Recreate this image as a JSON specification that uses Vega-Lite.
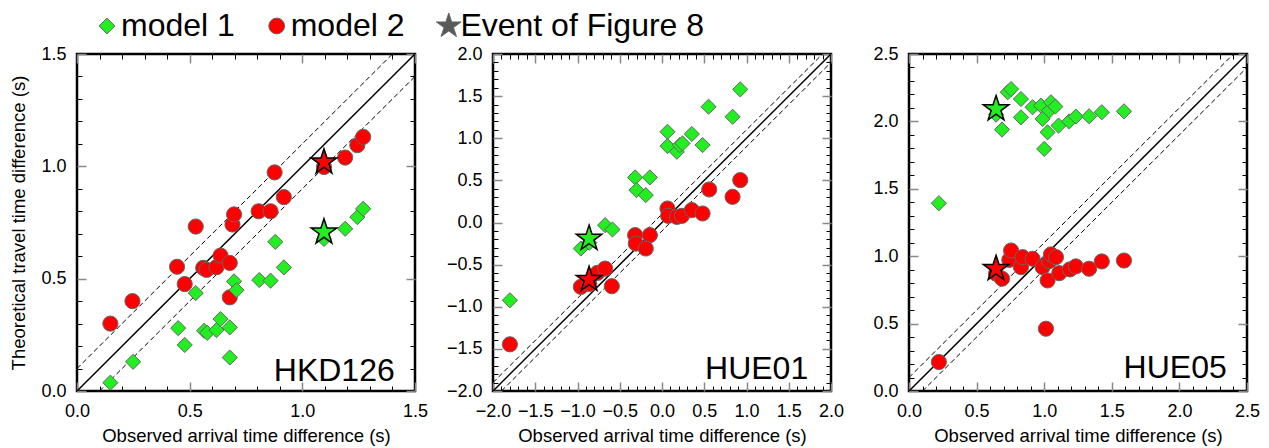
{
"$schema": "https://vega.github.io/schema/vega-lite/v6.json",
"background": "white",
"padding": {"left": 8, "top": 10, "right": 5, "bottom": 0},
"spacing": 78,
"bounds": "flush",
"datasets": {
"pts": [
{"panel":"HKD126","series":"model 2","kind":"station","obs":0.148,"theo":0.30},
{"panel":"HKD126","series":"model 2","kind":"station","obs":0.246,"theo":0.40},
{"panel":"HKD126","series":"model 2","kind":"station","obs":0.444,"theo":0.553},
{"panel":"HKD126","series":"model 2","kind":"station","obs":0.478,"theo":0.476},
{"panel":"HKD126","series":"model 2","kind":"station","obs":0.527,"theo":0.732},
{"panel":"HKD126","series":"model 2","kind":"station","obs":0.56,"theo":0.548},
{"panel":"HKD126","series":"model 2","kind":"station","obs":0.575,"theo":0.539},
{"panel":"HKD126","series":"model 2","kind":"station","obs":0.619,"theo":0.551},
{"panel":"HKD126","series":"model 2","kind":"station","obs":0.637,"theo":0.603},
{"panel":"HKD126","series":"model 2","kind":"station","obs":0.678,"theo":0.57},
{"panel":"HKD126","series":"model 2","kind":"station","obs":0.678,"theo":0.417},
{"panel":"HKD126","series":"model 2","kind":"station","obs":0.69,"theo":0.741},
{"panel":"HKD126","series":"model 2","kind":"station","obs":0.697,"theo":0.786},
{"panel":"HKD126","series":"model 2","kind":"station","obs":0.806,"theo":0.80},
{"panel":"HKD126","series":"model 2","kind":"station","obs":0.859,"theo":0.80},
{"panel":"HKD126","series":"model 2","kind":"station","obs":0.877,"theo":0.973},
{"panel":"HKD126","series":"model 2","kind":"station","obs":0.918,"theo":0.863},
{"panel":"HKD126","series":"model 2","kind":"station","obs":1.096,"theo":0.997},
{"panel":"HKD126","series":"model 2","kind":"station","obs":1.19,"theo":1.039},
{"panel":"HKD126","series":"model 2","kind":"station","obs":1.244,"theo":1.094},
{"panel":"HKD126","series":"model 2","kind":"station","obs":1.27,"theo":1.131},
{"panel":"HKD126","series":"model 2","kind":"event","obs":1.096,"theo":1.019},
{"panel":"HKD126","series":"model 1","kind":"station","obs":0.148,"theo":0.037},
{"panel":"HKD126","series":"model 1","kind":"station","obs":0.249,"theo":0.13},
{"panel":"HKD126","series":"model 1","kind":"station","obs":0.449,"theo":0.28},
{"panel":"HKD126","series":"model 1","kind":"station","obs":0.478,"theo":0.205},
{"panel":"HKD126","series":"model 1","kind":"station","obs":0.527,"theo":0.436},
{"panel":"HKD126","series":"model 1","kind":"station","obs":0.564,"theo":0.268},
{"panel":"HKD126","series":"model 1","kind":"station","obs":0.578,"theo":0.259},
{"panel":"HKD126","series":"model 1","kind":"station","obs":0.619,"theo":0.271},
{"panel":"HKD126","series":"model 1","kind":"station","obs":0.637,"theo":0.32},
{"panel":"HKD126","series":"model 1","kind":"station","obs":0.678,"theo":0.283},
{"panel":"HKD126","series":"model 1","kind":"station","obs":0.678,"theo":0.149},
{"panel":"HKD126","series":"model 1","kind":"station","obs":0.697,"theo":0.488},
{"panel":"HKD126","series":"model 1","kind":"station","obs":0.708,"theo":0.449},
{"panel":"HKD126","series":"model 1","kind":"station","obs":0.809,"theo":0.494},
{"panel":"HKD126","series":"model 1","kind":"station","obs":0.859,"theo":0.491},
{"panel":"HKD126","series":"model 1","kind":"station","obs":0.88,"theo":0.664},
{"panel":"HKD126","series":"model 1","kind":"station","obs":0.918,"theo":0.55},
{"panel":"HKD126","series":"model 1","kind":"station","obs":1.096,"theo":0.677},
{"panel":"HKD126","series":"model 1","kind":"station","obs":1.19,"theo":0.722},
{"panel":"HKD126","series":"model 1","kind":"station","obs":1.244,"theo":0.774},
{"panel":"HKD126","series":"model 1","kind":"station","obs":1.27,"theo":0.811},
{"panel":"HKD126","series":"model 1","kind":"event","obs":1.096,"theo":0.707},
{"panel":"HUE01","series":"model 1","kind":"station","obs":-1.80,"theo":-0.923},
{"panel":"HUE01","series":"model 1","kind":"station","obs":-0.96,"theo":-0.309},
{"panel":"HUE01","series":"model 1","kind":"station","obs":-0.86,"theo":-0.24},
{"panel":"HUE01","series":"model 1","kind":"station","obs":-0.673,"theo":-0.032},
{"panel":"HUE01","series":"model 1","kind":"station","obs":-0.586,"theo":-0.083},
{"panel":"HUE01","series":"model 1","kind":"station","obs":-0.318,"theo":0.535},
{"panel":"HUE01","series":"model 1","kind":"station","obs":-0.144,"theo":0.535},
{"panel":"HUE01","series":"model 1","kind":"station","obs":-0.302,"theo":0.384},
{"panel":"HUE01","series":"model 1","kind":"station","obs":-0.192,"theo":0.325},
{"panel":"HUE01","series":"model 1","kind":"station","obs":0.065,"theo":1.077},
{"panel":"HUE01","series":"model 1","kind":"station","obs":0.065,"theo":0.907},
{"panel":"HUE01","series":"model 1","kind":"station","obs":0.176,"theo":0.84},
{"panel":"HUE01","series":"model 1","kind":"station","obs":0.211,"theo":0.919},
{"panel":"HUE01","series":"model 1","kind":"station","obs":0.243,"theo":0.939},
{"panel":"HUE01","series":"model 1","kind":"station","obs":0.353,"theo":1.05},
{"panel":"HUE01","series":"model 1","kind":"station","obs":0.48,"theo":0.919},
{"panel":"HUE01","series":"model 1","kind":"station","obs":0.551,"theo":1.374},
{"panel":"HUE01","series":"model 1","kind":"station","obs":0.835,"theo":1.255},
{"panel":"HUE01","series":"model 1","kind":"station","obs":0.926,"theo":1.58},
{"panel":"HUE01","series":"model 1","kind":"event","obs":-0.863,"theo":-0.19},
{"panel":"HUE01","series":"model 2","kind":"station","obs":-1.80,"theo":-1.446},
{"panel":"HUE01","series":"model 2","kind":"station","obs":-0.96,"theo":-0.764},
{"panel":"HUE01","series":"model 2","kind":"station","obs":-0.86,"theo":-0.73},
{"panel":"HUE01","series":"model 2","kind":"station","obs":-0.764,"theo":-0.598},
{"panel":"HUE01","series":"model 2","kind":"station","obs":-0.673,"theo":-0.547},
{"panel":"HUE01","series":"model 2","kind":"station","obs":-0.594,"theo":-0.756},
{"panel":"HUE01","series":"model 2","kind":"station","obs":-0.318,"theo":-0.15},
{"panel":"HUE01","series":"model 2","kind":"station","obs":-0.31,"theo":-0.25},
{"panel":"HUE01","series":"model 2","kind":"station","obs":-0.144,"theo":-0.15},
{"panel":"HUE01","series":"model 2","kind":"station","obs":-0.192,"theo":-0.309},
{"panel":"HUE01","series":"model 2","kind":"station","obs":0.065,"theo":0.166},
{"panel":"HUE01","series":"model 2","kind":"station","obs":0.073,"theo":0.079},
{"panel":"HUE01","series":"model 2","kind":"station","obs":0.176,"theo":0.067},
{"panel":"HUE01","series":"model 2","kind":"station","obs":0.235,"theo":0.079},
{"panel":"HUE01","series":"model 2","kind":"station","obs":0.353,"theo":0.147},
{"panel":"HUE01","series":"model 2","kind":"station","obs":0.48,"theo":0.107},
{"panel":"HUE01","series":"model 2","kind":"station","obs":0.559,"theo":0.392},
{"panel":"HUE01","series":"model 2","kind":"station","obs":0.835,"theo":0.305},
{"panel":"HUE01","series":"model 2","kind":"station","obs":0.926,"theo":0.503},
{"panel":"HUE01","series":"model 2","kind":"event","obs":-0.863,"theo":-0.677},
{"panel":"HUE05","series":"model 1","kind":"station","obs":0.221,"theo":1.393},
{"panel":"HUE05","series":"model 1","kind":"station","obs":0.644,"theo":2.05},
{"panel":"HUE05","series":"model 1","kind":"station","obs":0.688,"theo":1.939},
{"panel":"HUE05","series":"model 1","kind":"station","obs":0.73,"theo":2.216},
{"panel":"HUE05","series":"model 1","kind":"station","obs":0.755,"theo":2.24},
{"panel":"HUE05","series":"model 1","kind":"station","obs":0.828,"theo":2.166},
{"panel":"HUE05","series":"model 1","kind":"station","obs":0.828,"theo":2.03},
{"panel":"HUE05","series":"model 1","kind":"station","obs":0.914,"theo":2.105},
{"panel":"HUE05","series":"model 1","kind":"station","obs":0.976,"theo":2.117},
{"panel":"HUE05","series":"model 1","kind":"station","obs":0.988,"theo":2.018},
{"panel":"HUE05","series":"model 1","kind":"station","obs":1.0,"theo":1.796},
{"panel":"HUE05","series":"model 1","kind":"station","obs":1.025,"theo":1.919},
{"panel":"HUE05","series":"model 1","kind":"station","obs":1.037,"theo":2.08},
{"panel":"HUE05","series":"model 1","kind":"station","obs":1.05,"theo":2.142},
{"panel":"HUE05","series":"model 1","kind":"station","obs":1.082,"theo":2.11},
{"panel":"HUE05","series":"model 1","kind":"station","obs":1.106,"theo":1.969},
{"panel":"HUE05","series":"model 1","kind":"station","obs":1.185,"theo":2.0},
{"panel":"HUE05","series":"model 1","kind":"station","obs":1.234,"theo":2.036},
{"panel":"HUE05","series":"model 1","kind":"station","obs":1.332,"theo":2.038},
{"panel":"HUE05","series":"model 1","kind":"station","obs":1.426,"theo":2.068},
{"panel":"HUE05","series":"model 1","kind":"station","obs":1.59,"theo":2.075},
{"panel":"HUE05","series":"model 1","kind":"event","obs":0.644,"theo":2.092},
{"panel":"HUE05","series":"model 2","kind":"station","obs":0.221,"theo":0.215},
{"panel":"HUE05","series":"model 2","kind":"station","obs":0.644,"theo":0.87},
{"panel":"HUE05","series":"model 2","kind":"station","obs":0.688,"theo":0.833},
{"panel":"HUE05","series":"model 2","kind":"station","obs":0.742,"theo":0.973},
{"panel":"HUE05","series":"model 2","kind":"station","obs":0.755,"theo":1.042},
{"panel":"HUE05","series":"model 2","kind":"station","obs":0.828,"theo":0.919},
{"panel":"HUE05","series":"model 2","kind":"station","obs":0.84,"theo":0.993},
{"panel":"HUE05","series":"model 2","kind":"station","obs":0.914,"theo":0.981},
{"panel":"HUE05","series":"model 2","kind":"station","obs":0.988,"theo":0.919},
{"panel":"HUE05","series":"model 2","kind":"station","obs":1.013,"theo":0.462},
{"panel":"HUE05","series":"model 2","kind":"station","obs":1.025,"theo":0.82},
{"panel":"HUE05","series":"model 2","kind":"station","obs":1.037,"theo":0.963},
{"panel":"HUE05","series":"model 2","kind":"station","obs":1.05,"theo":1.013},
{"panel":"HUE05","series":"model 2","kind":"station","obs":1.087,"theo":0.993},
{"panel":"HUE05","series":"model 2","kind":"station","obs":1.111,"theo":0.874},
{"panel":"HUE05","series":"model 2","kind":"station","obs":1.19,"theo":0.902},
{"panel":"HUE05","series":"model 2","kind":"station","obs":1.234,"theo":0.924},
{"panel":"HUE05","series":"model 2","kind":"station","obs":1.332,"theo":0.907},
{"panel":"HUE05","series":"model 2","kind":"station","obs":1.426,"theo":0.961},
{"panel":"HUE05","series":"model 2","kind":"station","obs":1.59,"theo":0.968},
{"panel":"HUE05","series":"model 2","kind":"event","obs":0.644,"theo":0.907}
],
"lines": [
{"panel":"HKD126","line":"solid","obs":0,"theo":0},
{"panel":"HKD126","line":"solid","obs":1.5,"theo":1.5},
{"panel":"HKD126","line":"upper","obs":0,"theo":0.1},
{"panel":"HKD126","line":"upper","obs":1.4,"theo":1.5},
{"panel":"HKD126","line":"lower","obs":0.1,"theo":0},
{"panel":"HKD126","line":"lower","obs":1.5,"theo":1.4},
{"panel":"HUE01","line":"solid","obs":-2,"theo":-2},
{"panel":"HUE01","line":"solid","obs":2,"theo":2},
{"panel":"HUE01","line":"upper","obs":-2,"theo":-1.9},
{"panel":"HUE01","line":"upper","obs":1.9,"theo":2},
{"panel":"HUE01","line":"lower","obs":-1.9,"theo":-2},
{"panel":"HUE01","line":"lower","obs":2,"theo":1.9},
{"panel":"HUE05","line":"solid","obs":0,"theo":0},
{"panel":"HUE05","line":"solid","obs":2.5,"theo":2.5},
{"panel":"HUE05","line":"upper","obs":0,"theo":0.1},
{"panel":"HUE05","line":"upper","obs":2.4,"theo":2.5},
{"panel":"HUE05","line":"lower","obs":0.1,"theo":0},
{"panel":"HUE05","line":"lower","obs":2.5,"theo":2.4}
],
"tags": [
{"panel":"HKD126","obs":1.41,"theo":0.045},
{"panel":"HUE01","obs":1.73,"theo":-1.86},
{"panel":"HUE05","obs":2.35,"theo":0.096}
]
},
"hconcat": [
{
"width": 338, "height": 337,
"layer": [
{"data":{"name":"lines"},"transform":[{"filter":"datum.panel=='HKD126' && datum.line=='solid'"}],
 "mark":{"type":"line","color":"black","strokeWidth":1.5,"clip":true},
 "encoding":{
  "x":{"field":"obs","type":"quantitative","scale":{"domain":[0,1.5],"nice":false,"zero":false},
   "axis":{"orient":"bottom","values":[0,0.5,1,1.5],"format":".1f","tickSize":-9,"tickColor":"#888888","tickWidth":1.5,"labelPadding":20,"title":"Observed arrival time difference (s)","titlePadding":6}},
  "y":{"field":"theo","type":"quantitative","scale":{"domain":[0,1.5],"nice":false,"zero":false},
   "axis":{"orient":"left","values":[0,0.5,1,1.5],"format":".1f","tickSize":-9,"tickColor":"#888888","tickWidth":1.5,"labelPadding":20,"title":"Theoretical travel time difference (s)","titlePadding":12}}}},
{"data":{"name":"lines"},"transform":[{"filter":"datum.panel=='HKD126' && datum.line!='solid'"}],
 "mark":{"type":"line","color":"black","strokeWidth":1,"strokeDash":[5,3],"clip":true},
 "encoding":{
  "detail":{"field":"line"},
  "x":{"field":"obs","type":"quantitative","scale":{"domain":[0,1.5],"nice":false,"zero":false},
   "axis":{"orient":"bottom","values":[0.1,0.2,0.3,0.4,0.6,0.7,0.8,0.9,1.1,1.2,1.3,1.4],"tickSize":-5,"tickColor":"black","labels":false,"title":null}},
  "y":{"field":"theo","type":"quantitative","scale":{"domain":[0,1.5],"nice":false,"zero":false},
   "axis":{"orient":"left","values":[0.1,0.2,0.3,0.4,0.6,0.7,0.8,0.9,1.1,1.2,1.3,1.4],"tickSize":-5,"tickColor":"black","labels":false,"title":null}}}},
{"data":{"name":"pts"},"transform":[{"filter":"datum.panel=='HKD126' && datum.kind=='station'"}],
 "mark":{"type":"point","filled":true,"stroke":"#666666","strokeWidth":1,"opacity":1,"size":230},
 "encoding":{
  "x":{"field":"obs","type":"quantitative","scale":{"domain":[0,1.5],"nice":false,"zero":false},
   "axis":{"orient":"top","values":[0,0.5,1,1.5],"tickSize":-9,"tickColor":"#888888","tickWidth":1.5,"labels":false,"title":null}},
  "y":{"field":"theo","type":"quantitative","scale":{"domain":[0,1.5],"nice":false,"zero":false},
   "axis":{"orient":"right","values":[0,0.5,1,1.5],"tickSize":-9,"tickColor":"#888888","tickWidth":1.5,"labels":false,"title":null}},
  "fill":{"field":"series","type":"nominal","scale":{"domain":["model 1","model 2","Event of Figure 8"],"range":["#22ee22","#ff0000","#595959"]},
   "legend":{"title":null,"orient":"none","legendX":14,"legendY":-44,"direction":"horizontal","columns":3,"labelFontSize":32,"labelLimit":600,"labelColor":"black","labelOffset":-2,"columnPadding":25.7,"symbolSize":250,"symbolStrokeColor":"#444444","symbolStrokeWidth":1}},
  "shape":{"field":"series","type":"nominal","scale":{"domain":["model 1","model 2","Event of Figure 8"],"range":["diamond","circle","M0.3,-1.65L0.67,-0.51L1.87,-0.51L0.9,0.195L1.27,1.335L0.3,0.63L-0.67,1.335L-0.3,0.195L-1.27,-0.51L-0.07,-0.51Z"]}}}},
{"data":{"name":"pts"},"transform":[{"filter":"datum.panel=='HKD126' && datum.kind=='event' && datum.series=='model 1'"}],
 "mark":{"type":"point","filled":true,"fill":"#22ee22","stroke":"black","strokeWidth":1.5,"size":720,"opacity":1,"shape":"M0,-1L0.2245,-0.309L0.9511,-0.309L0.3633,0.118L0.5878,0.809L0,0.382L-0.5878,0.809L-0.3633,0.118L-0.9511,-0.309L-0.2245,-0.309Z"},
 "encoding":{
  "x":{"field":"obs","type":"quantitative","scale":{"domain":[0,1.5],"nice":false,"zero":false},
   "axis":{"orient":"top","values":[0.1,0.2,0.3,0.4,0.6,0.7,0.8,0.9,1.1,1.2,1.3,1.4],"tickSize":-5,"tickColor":"black","labels":false,"title":null}},
  "y":{"field":"theo","type":"quantitative","scale":{"domain":[0,1.5],"nice":false,"zero":false},
   "axis":{"orient":"right","values":[0.1,0.2,0.3,0.4,0.6,0.7,0.8,0.9,1.1,1.2,1.3,1.4],"tickSize":-5,"tickColor":"black","labels":false,"title":null}}}},
{"data":{"name":"pts"},"transform":[{"filter":"datum.panel=='HKD126' && datum.kind=='event' && datum.series=='model 2'"}],
 "mark":{"type":"point","filled":true,"fill":"#ff0000","stroke":"black","strokeWidth":1.5,"size":720,"opacity":1,"shape":"M0,-1L0.2245,-0.309L0.9511,-0.309L0.3633,0.118L0.5878,0.809L0,0.382L-0.5878,0.809L-0.3633,0.118L-0.9511,-0.309L-0.2245,-0.309Z"},
 "encoding":{
  "x":{"field":"obs","type":"quantitative","scale":{"domain":[0,1.5],"nice":false,"zero":false},"axis":null},
  "y":{"field":"theo","type":"quantitative","scale":{"domain":[0,1.5],"nice":false,"zero":false},"axis":null}}},
{"data":{"name":"tags"},"transform":[{"filter":"datum.panel=='HKD126'"}],
 "mark":{"type":"text","align":"right","baseline":"alphabetic","fontSize":32,"font":"Liberation Sans","color":"black"},
 "encoding":{
  "text":{"field":"panel"},
  "x":{"field":"obs","type":"quantitative","scale":{"domain":[0,1.5],"nice":false,"zero":false},"axis":null},
  "y":{"field":"theo","type":"quantitative","scale":{"domain":[0,1.5],"nice":false,"zero":false},"axis":null}}}
],
"resolve":{"axis":{"x":"independent","y":"independent"}}
},
{
"width": 338, "height": 337,
"layer": [
{"data":{"name":"lines"},"transform":[{"filter":"datum.panel=='HUE01' && datum.line=='solid'"}],
 "mark":{"type":"line","color":"black","strokeWidth":1.5,"clip":true},
 "encoding":{
  "x":{"field":"obs","type":"quantitative","scale":{"domain":[-2,2],"nice":false,"zero":false},
   "axis":{"orient":"bottom","values":[-2,-1.5,-1,-0.5,0,0.5,1,1.5,2],"format":".1f","tickSize":-9,"tickColor":"#888888","tickWidth":1.5,"labelPadding":20,"title":"Observed arrival time difference (s)","titlePadding":6}},
  "y":{"field":"theo","type":"quantitative","scale":{"domain":[-2,2],"nice":false,"zero":false},
   "axis":{"orient":"left","values":[-2,-1.5,-1,-0.5,0,0.5,1,1.5,2],"format":".1f","tickSize":-9,"tickColor":"#888888","tickWidth":1.5,"labelPadding":20,"title":null}}}},
{"data":{"name":"lines"},"transform":[{"filter":"datum.panel=='HUE01' && datum.line!='solid'"}],
 "mark":{"type":"line","color":"black","strokeWidth":1,"strokeDash":[5,3],"clip":true},
 "encoding":{
  "detail":{"field":"line"},
  "x":{"field":"obs","type":"quantitative","scale":{"domain":[-2,2],"nice":false,"zero":false},
   "axis":{"orient":"bottom","values":[-1.9,-1.8,-1.7,-1.6,-1.4,-1.3,-1.2,-1.1,-0.9,-0.8,-0.7,-0.6,-0.4,-0.3,-0.2,-0.1,0.1,0.2,0.3,0.4,0.6,0.7,0.8,0.9,1.1,1.2,1.3,1.4,1.6,1.7,1.8,1.9],"tickSize":-5,"tickColor":"black","labels":false,"title":null}},
  "y":{"field":"theo","type":"quantitative","scale":{"domain":[-2,2],"nice":false,"zero":false},
   "axis":{"orient":"left","values":[-1.9,-1.8,-1.7,-1.6,-1.4,-1.3,-1.2,-1.1,-0.9,-0.8,-0.7,-0.6,-0.4,-0.3,-0.2,-0.1,0.1,0.2,0.3,0.4,0.6,0.7,0.8,0.9,1.1,1.2,1.3,1.4,1.6,1.7,1.8,1.9],"tickSize":-5,"tickColor":"black","labels":false,"title":null}}}},
{"data":{"name":"pts"},"transform":[{"filter":"datum.panel=='HUE01' && datum.kind=='station'"}],
 "mark":{"type":"point","filled":true,"stroke":"#666666","strokeWidth":1,"opacity":1,"size":230},
 "encoding":{
  "x":{"field":"obs","type":"quantitative","scale":{"domain":[-2,2],"nice":false,"zero":false},
   "axis":{"orient":"top","values":[-2,-1.5,-1,-0.5,0,0.5,1,1.5,2],"tickSize":-9,"tickColor":"#888888","tickWidth":1.5,"labels":false,"title":null}},
  "y":{"field":"theo","type":"quantitative","scale":{"domain":[-2,2],"nice":false,"zero":false},
   "axis":{"orient":"right","values":[-2,-1.5,-1,-0.5,0,0.5,1,1.5,2],"tickSize":-9,"tickColor":"#888888","tickWidth":1.5,"labels":false,"title":null}},
  "fill":{"field":"series","type":"nominal","scale":{"domain":["model 1","model 2","Event of Figure 8"],"range":["#22ee22","#ff0000","#595959"]},
   "legend":{"title":null,"orient":"none","legendX":14,"legendY":-44,"direction":"horizontal","columns":3,"labelFontSize":32,"labelLimit":600,"labelColor":"black","labelOffset":-2,"columnPadding":25.7,"symbolSize":250,"symbolStrokeColor":"#444444","symbolStrokeWidth":1}},
  "shape":{"field":"series","type":"nominal","scale":{"domain":["model 1","model 2","Event of Figure 8"],"range":["diamond","circle","M0.3,-1.65L0.67,-0.51L1.87,-0.51L0.9,0.195L1.27,1.335L0.3,0.63L-0.67,1.335L-0.3,0.195L-1.27,-0.51L-0.07,-0.51Z"]}}}},
{"data":{"name":"pts"},"transform":[{"filter":"datum.panel=='HUE01' && datum.kind=='event' && datum.series=='model 1'"}],
 "mark":{"type":"point","filled":true,"fill":"#22ee22","stroke":"black","strokeWidth":1.5,"size":720,"opacity":1,"shape":"M0,-1L0.2245,-0.309L0.9511,-0.309L0.3633,0.118L0.5878,0.809L0,0.382L-0.5878,0.809L-0.3633,0.118L-0.9511,-0.309L-0.2245,-0.309Z"},
 "encoding":{
  "x":{"field":"obs","type":"quantitative","scale":{"domain":[-2,2],"nice":false,"zero":false},
   "axis":{"orient":"top","values":[-1.9,-1.8,-1.7,-1.6,-1.4,-1.3,-1.2,-1.1,-0.9,-0.8,-0.7,-0.6,-0.4,-0.3,-0.2,-0.1,0.1,0.2,0.3,0.4,0.6,0.7,0.8,0.9,1.1,1.2,1.3,1.4,1.6,1.7,1.8,1.9],"tickSize":-5,"tickColor":"black","labels":false,"title":null}},
  "y":{"field":"theo","type":"quantitative","scale":{"domain":[-2,2],"nice":false,"zero":false},
   "axis":{"orient":"right","values":[-1.9,-1.8,-1.7,-1.6,-1.4,-1.3,-1.2,-1.1,-0.9,-0.8,-0.7,-0.6,-0.4,-0.3,-0.2,-0.1,0.1,0.2,0.3,0.4,0.6,0.7,0.8,0.9,1.1,1.2,1.3,1.4,1.6,1.7,1.8,1.9],"tickSize":-5,"tickColor":"black","labels":false,"title":null}}}},
{"data":{"name":"pts"},"transform":[{"filter":"datum.panel=='HUE01' && datum.kind=='event' && datum.series=='model 2'"}],
 "mark":{"type":"point","filled":true,"fill":"#ff0000","stroke":"black","strokeWidth":1.5,"size":720,"opacity":1,"shape":"M0,-1L0.2245,-0.309L0.9511,-0.309L0.3633,0.118L0.5878,0.809L0,0.382L-0.5878,0.809L-0.3633,0.118L-0.9511,-0.309L-0.2245,-0.309Z"},
 "encoding":{
  "x":{"field":"obs","type":"quantitative","scale":{"domain":[-2,2],"nice":false,"zero":false},"axis":null},
  "y":{"field":"theo","type":"quantitative","scale":{"domain":[-2,2],"nice":false,"zero":false},"axis":null}}},
{"data":{"name":"tags"},"transform":[{"filter":"datum.panel=='HUE01'"}],
 "mark":{"type":"text","align":"right","baseline":"alphabetic","fontSize":32,"font":"Liberation Sans","color":"black"},
 "encoding":{
  "text":{"field":"panel"},
  "x":{"field":"obs","type":"quantitative","scale":{"domain":[-2,2],"nice":false,"zero":false},"axis":null},
  "y":{"field":"theo","type":"quantitative","scale":{"domain":[-2,2],"nice":false,"zero":false},"axis":null}}}
],
"resolve":{"axis":{"x":"independent","y":"independent"}}
},
{
"width": 338, "height": 337,
"layer": [
{"data":{"name":"lines"},"transform":[{"filter":"datum.panel=='HUE05' && datum.line=='solid'"}],
 "mark":{"type":"line","color":"black","strokeWidth":1.5,"clip":true},
 "encoding":{
  "x":{"field":"obs","type":"quantitative","scale":{"domain":[0,2.5],"nice":false,"zero":false},
   "axis":{"orient":"bottom","values":[0,0.5,1,1.5,2,2.5],"format":".1f","tickSize":-9,"tickColor":"#888888","tickWidth":1.5,"labelPadding":20,"title":"Observed arrival time difference (s)","titlePadding":6}},
  "y":{"field":"theo","type":"quantitative","scale":{"domain":[0,2.5],"nice":false,"zero":false},
   "axis":{"orient":"left","values":[0,0.5,1,1.5,2,2.5],"format":".1f","tickSize":-9,"tickColor":"#888888","tickWidth":1.5,"labelPadding":20,"title":null}}}},
{"data":{"name":"lines"},"transform":[{"filter":"datum.panel=='HUE05' && datum.line!='solid'"}],
 "mark":{"type":"line","color":"black","strokeWidth":1,"strokeDash":[5,3],"clip":true},
 "encoding":{
  "detail":{"field":"line"},
  "x":{"field":"obs","type":"quantitative","scale":{"domain":[0,2.5],"nice":false,"zero":false},
   "axis":{"orient":"bottom","values":[0.1,0.2,0.3,0.4,0.6,0.7,0.8,0.9,1.1,1.2,1.3,1.4,1.6,1.7,1.8,1.9,2.1,2.2,2.3,2.4],"tickSize":-5,"tickColor":"black","labels":false,"title":null}},
  "y":{"field":"theo","type":"quantitative","scale":{"domain":[0,2.5],"nice":false,"zero":false},
   "axis":{"orient":"left","values":[0.1,0.2,0.3,0.4,0.6,0.7,0.8,0.9,1.1,1.2,1.3,1.4,1.6,1.7,1.8,1.9,2.1,2.2,2.3,2.4],"tickSize":-5,"tickColor":"black","labels":false,"title":null}}}},
{"data":{"name":"pts"},"transform":[{"filter":"datum.panel=='HUE05' && datum.kind=='station'"}],
 "mark":{"type":"point","filled":true,"stroke":"#666666","strokeWidth":1,"opacity":1,"size":230},
 "encoding":{
  "x":{"field":"obs","type":"quantitative","scale":{"domain":[0,2.5],"nice":false,"zero":false},
   "axis":{"orient":"top","values":[0,0.5,1,1.5,2,2.5],"tickSize":-9,"tickColor":"#888888","tickWidth":1.5,"labels":false,"title":null}},
  "y":{"field":"theo","type":"quantitative","scale":{"domain":[0,2.5],"nice":false,"zero":false},
   "axis":{"orient":"right","values":[0,0.5,1,1.5,2,2.5],"tickSize":-9,"tickColor":"#888888","tickWidth":1.5,"labels":false,"title":null}},
  "fill":{"field":"series","type":"nominal","scale":{"domain":["model 1","model 2","Event of Figure 8"],"range":["#22ee22","#ff0000","#595959"]},
   "legend":{"title":null,"orient":"none","legendX":14,"legendY":-44,"direction":"horizontal","columns":3,"labelFontSize":32,"labelLimit":600,"labelColor":"black","labelOffset":-2,"columnPadding":25.7,"symbolSize":250,"symbolStrokeColor":"#444444","symbolStrokeWidth":1}},
  "shape":{"field":"series","type":"nominal","scale":{"domain":["model 1","model 2","Event of Figure 8"],"range":["diamond","circle","M0.3,-1.65L0.67,-0.51L1.87,-0.51L0.9,0.195L1.27,1.335L0.3,0.63L-0.67,1.335L-0.3,0.195L-1.27,-0.51L-0.07,-0.51Z"]}}}},
{"data":{"name":"pts"},"transform":[{"filter":"datum.panel=='HUE05' && datum.kind=='event' && datum.series=='model 1'"}],
 "mark":{"type":"point","filled":true,"fill":"#22ee22","stroke":"black","strokeWidth":1.5,"size":720,"opacity":1,"shape":"M0,-1L0.2245,-0.309L0.9511,-0.309L0.3633,0.118L0.5878,0.809L0,0.382L-0.5878,0.809L-0.3633,0.118L-0.9511,-0.309L-0.2245,-0.309Z"},
 "encoding":{
  "x":{"field":"obs","type":"quantitative","scale":{"domain":[0,2.5],"nice":false,"zero":false},
   "axis":{"orient":"top","values":[0.1,0.2,0.3,0.4,0.6,0.7,0.8,0.9,1.1,1.2,1.3,1.4,1.6,1.7,1.8,1.9,2.1,2.2,2.3,2.4],"tickSize":-5,"tickColor":"black","labels":false,"title":null}},
  "y":{"field":"theo","type":"quantitative","scale":{"domain":[0,2.5],"nice":false,"zero":false},
   "axis":{"orient":"right","values":[0.1,0.2,0.3,0.4,0.6,0.7,0.8,0.9,1.1,1.2,1.3,1.4,1.6,1.7,1.8,1.9,2.1,2.2,2.3,2.4],"tickSize":-5,"tickColor":"black","labels":false,"title":null}}}},
{"data":{"name":"pts"},"transform":[{"filter":"datum.panel=='HUE05' && datum.kind=='event' && datum.series=='model 2'"}],
 "mark":{"type":"point","filled":true,"fill":"#ff0000","stroke":"black","strokeWidth":1.5,"size":720,"opacity":1,"shape":"M0,-1L0.2245,-0.309L0.9511,-0.309L0.3633,0.118L0.5878,0.809L0,0.382L-0.5878,0.809L-0.3633,0.118L-0.9511,-0.309L-0.2245,-0.309Z"},
 "encoding":{
  "x":{"field":"obs","type":"quantitative","scale":{"domain":[0,2.5],"nice":false,"zero":false},"axis":null},
  "y":{"field":"theo","type":"quantitative","scale":{"domain":[0,2.5],"nice":false,"zero":false},"axis":null}}},
{"data":{"name":"tags"},"transform":[{"filter":"datum.panel=='HUE05'"}],
 "mark":{"type":"text","align":"right","baseline":"alphabetic","fontSize":32,"font":"Liberation Sans","color":"black"},
 "encoding":{
  "text":{"field":"panel"},
  "x":{"field":"obs","type":"quantitative","scale":{"domain":[0,2.5],"nice":false,"zero":false},"axis":null},
  "y":{"field":"theo","type":"quantitative","scale":{"domain":[0,2.5],"nice":false,"zero":false},"axis":null}}}
],
"resolve":{"axis":{"x":"independent","y":"independent"}}
}
],
"config": {
 "font": "Liberation Sans",
 "view": {"stroke": "black", "strokeWidth": 2.5},
 "axis": {"domain": false, "grid": false, "labelFontSize": 18, "labelColor": "black", "labelFont": "Liberation Sans", "titleFont": "Liberation Sans", "titleFontSize": 18.5, "titleFontWeight": "normal", "titleColor": "black", "labelFlush": false, "labelOverlap": false},
 "legend": {"labelFont": "Liberation Sans"}
}
}
